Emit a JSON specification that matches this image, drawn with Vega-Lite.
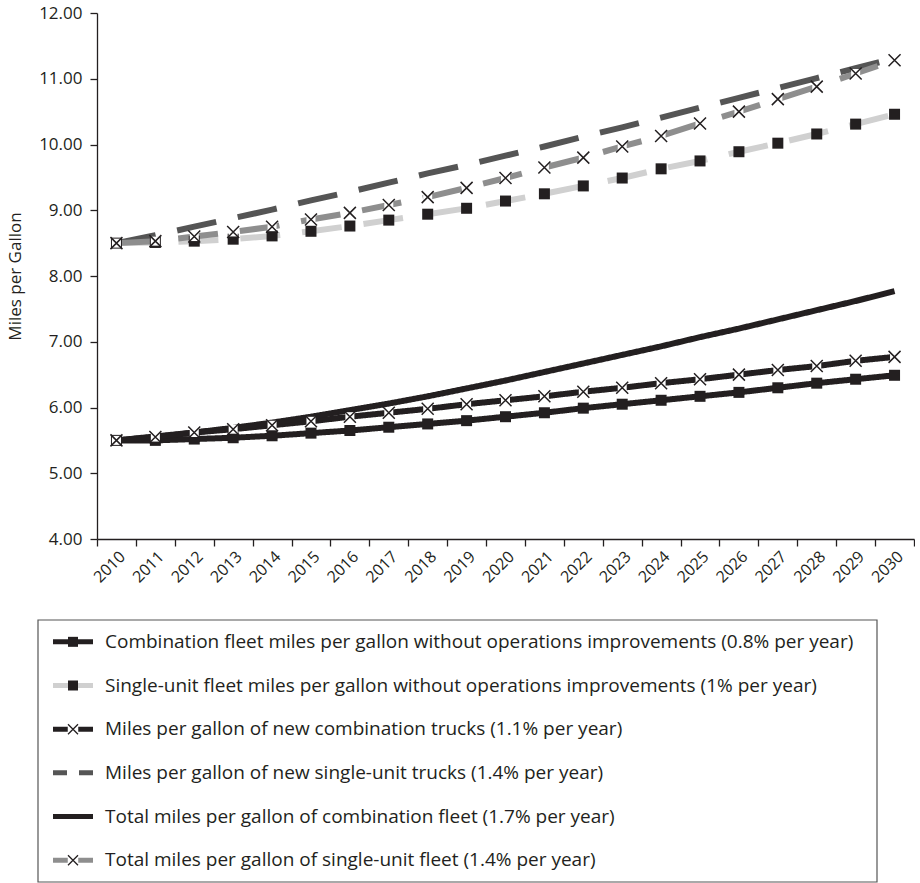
{
  "$schema": "https://vega.github.io/schema/vega-lite/v6.json",
  "padding": {"left": 6, "top": 4, "right": 0, "bottom": 0},
  "spacing": 33,
  "config": {
    "font": "Open Sans",
    "view": {"stroke": null},
    "axis": {"labelFont": "Open Sans", "titleFont": "Open Sans", "labelColor": "#231f20", "titleColor": "#231f20", "domainColor": "#231f20", "tickColor": "#231f20", "grid": false}
  },
  "datasets": {
    "mpg": [
      {"year": "2010", "s1": 5.50, "s2": 8.50, "s3": 5.50, "s4": 8.50, "s5": 5.50, "s6": 8.50},
      {"year": "2011", "s1": 5.50, "s2": 8.51, "s3": 5.55, "s4": 8.62, "s5": 5.56, "s6": 8.53},
      {"year": "2012", "s1": 5.52, "s2": 8.53, "s3": 5.62, "s4": 8.75, "s5": 5.62, "s6": 8.60},
      {"year": "2013", "s1": 5.54, "s2": 8.56, "s3": 5.67, "s4": 8.88, "s5": 5.69, "s6": 8.67},
      {"year": "2014", "s1": 5.57, "s2": 8.61, "s3": 5.73, "s4": 9.01, "s5": 5.77, "s6": 8.75},
      {"year": "2015", "s1": 5.61, "s2": 8.68, "s3": 5.79, "s4": 9.15, "s5": 5.86, "s6": 8.86},
      {"year": "2016", "s1": 5.65, "s2": 8.76, "s3": 5.86, "s4": 9.28, "s5": 5.96, "s6": 8.96},
      {"year": "2017", "s1": 5.70, "s2": 8.85, "s3": 5.92, "s4": 9.42, "s5": 6.06, "s6": 9.08},
      {"year": "2018", "s1": 5.75, "s2": 8.94, "s3": 5.98, "s4": 9.56, "s5": 6.17, "s6": 9.20},
      {"year": "2019", "s1": 5.80, "s2": 9.03, "s3": 6.05, "s4": 9.69, "s5": 6.29, "s6": 9.34},
      {"year": "2020", "s1": 5.86, "s2": 9.14, "s3": 6.11, "s4": 9.83, "s5": 6.41, "s6": 9.49},
      {"year": "2021", "s1": 5.92, "s2": 9.25, "s3": 6.17, "s4": 9.97, "s5": 6.54, "s6": 9.65},
      {"year": "2022", "s1": 5.99, "s2": 9.37, "s3": 6.24, "s4": 10.12, "s5": 6.67, "s6": 9.80},
      {"year": "2023", "s1": 6.05, "s2": 9.49, "s3": 6.30, "s4": 10.26, "s5": 6.80, "s6": 9.97},
      {"year": "2024", "s1": 6.11, "s2": 9.63, "s3": 6.37, "s4": 10.41, "s5": 6.93, "s6": 10.13},
      {"year": "2025", "s1": 6.17, "s2": 9.75, "s3": 6.43, "s4": 10.56, "s5": 7.07, "s6": 10.32},
      {"year": "2026", "s1": 6.23, "s2": 9.89, "s3": 6.50, "s4": 10.71, "s5": 7.20, "s6": 10.50},
      {"year": "2027", "s1": 6.30, "s2": 10.02, "s3": 6.57, "s4": 10.86, "s5": 7.34, "s6": 10.69},
      {"year": "2028", "s1": 6.37, "s2": 10.16, "s3": 6.63, "s4": 11.01, "s5": 7.48, "s6": 10.88},
      {"year": "2029", "s1": 6.43, "s2": 10.31, "s3": 6.71, "s4": 11.16, "s5": 7.62, "s6": 11.08},
      {"year": "2030", "s1": 6.49, "s2": 10.46, "s3": 6.77, "s4": 11.31, "s5": 7.77, "s6": 11.28}
    ],
    "legend": [
      {"key": "s1", "label": "Combination fleet miles per gallon without operations improvements (0.8% per year)"},
      {"key": "s2", "label": "Single-unit fleet miles per gallon without operations improvements (1% per year)"},
      {"key": "s3", "label": "Miles per gallon of new combination trucks (1.1% per year)"},
      {"key": "s4", "label": "Miles per gallon of new single-unit trucks (1.4% per year)"},
      {"key": "s5", "label": "Total miles per gallon of combination fleet (1.7% per year)"},
      {"key": "s6", "label": "Total miles per gallon of single-unit fleet (1.4% per year)"}
    ],
    "box": [{"part": "legend box"}]
  },
  "resolve": {"scale": {"x": "independent", "y": "independent", "color": "independent"}},
  "vconcat": [
    {
      "width": 817,
      "height": 526,
      "data": {"name": "mpg"},
      "transform": [{"fold": ["s1", "s2", "s3", "s4", "s5", "s6"], "as": ["key", "mpg"]}],
      "encoding": {
        "x": {
          "field": "year", "type": "ordinal",
          "scale": {"type": "band", "paddingInner": 0, "paddingOuter": 0},
          "axis": {"title": null, "labelAngle": -45, "tickBand": "extent", "tickSize": 7, "labelPadding": 2, "labelFontSize": 16, "domainWidth": 1.3, "tickWidth": 1.3}
        },
        "y": {
          "field": "mpg", "type": "quantitative",
          "scale": {"domain": [4, 12], "nice": false, "zero": false},
          "axis": {"title": "Miles per Gallon", "values": [4, 5, 6, 7, 8, 9, 10, 11, 12], "format": ".2f", "tickSize": 7, "labelPadding": 8, "labelFontSize": 17, "titleFontSize": 17, "titleFontWeight": "normal", "titlePadding": 14, "domainWidth": 1.3, "tickWidth": 1.3}
        }
      },
      "layer": [
        {
          "mark": {"type": "line", "strokeWidth": 6, "strokeCap": "butt", "strokeJoin": "round"},
          "encoding": {
            "color": {"field": "key", "type": "nominal", "legend": null,
              "scale": {"domain": ["s1", "s2", "s3", "s4", "s5", "s6"], "range": ["#231f20", "#d0d0d0", "#231f20", "#555555", "#231f20", "#8e8e8e"]}},
            "strokeDash": {"field": "key", "type": "nominal", "legend": null,
              "scale": {"domain": ["s1", "s2", "s3", "s4", "s5", "s6"], "range": [[1, 0], [40, 22], [1, 0], [40, 22], [1, 0], [40, 22]]}}
          }
        },
        {
          "transform": [{"filter": "datum.key == 's1' || datum.key == 's2'"}],
          "mark": {"type": "point", "shape": "square", "filled": true, "size": 121, "color": "#231f20", "opacity": 1}
        },
        {
          "transform": [{"filter": "datum.key == 's3' || datum.key == 's6'"}],
          "mark": {"type": "point", "shape": "square", "filled": true, "size": 81, "color": "#ffffff", "opacity": 1}
        },
        {
          "transform": [{"filter": "datum.key == 's3' || datum.key == 's6'"}],
          "mark": {"type": "point", "shape": "M-1,-1L1,1M-1,1L1,-1", "filled": false, "size": 144, "stroke": "#231f20", "strokeWidth": 1.5, "opacity": 1}
        }
      ]
    },
    {
      "width": 780,
      "height": 262,
      "layer": [
        {
          "data": {"name": "box"},
          "mark": {"type": "rect", "fill": null, "stroke": "#555555", "strokeWidth": 1.2, "clip": false},
          "encoding": {
            "x": {"datum": -59, "type": "quantitative", "scale": {"domain": [0, 780], "nice": false, "zero": false}, "axis": null},
            "x2": {"datum": 780}
          }
        },
        {
          "data": {"name": "legend"},
          "encoding": {
            "y": {
              "field": "key", "type": "nominal",
              "scale": {"type": "band", "domain": ["s1", "s2", "s3", "s4", "s5", "s6"], "paddingInner": 0, "paddingOuter": 0},
              "axis": null
            }
          },
          "layer": [
            {
              "transform": [{"filter": "datum.key != 's4'"}],
              "mark": {"type": "rule", "strokeWidth": 5},
              "encoding": {
                "x": {"datum": -44, "type": "quantitative"},
                "x2": {"datum": -4},
                "color": {"field": "key", "type": "nominal", "legend": null,
                  "scale": {"domain": ["s1", "s2", "s3", "s4", "s5", "s6"], "range": ["#231f20", "#d0d0d0", "#231f20", "#555555", "#231f20", "#8e8e8e"]}}
              }
            },
            {
              "transform": [{"filter": "datum.key == 's4'"}],
              "mark": {"type": "rule", "strokeWidth": 5, "strokeDash": [14, 12], "color": "#555555"},
              "encoding": {
                "x": {"datum": -44, "type": "quantitative"},
                "x2": {"datum": -4}
              }
            },
            {
              "transform": [{"filter": "datum.key == 's1' || datum.key == 's2'"}],
              "mark": {"type": "point", "shape": "square", "filled": true, "size": 100, "color": "#231f20", "opacity": 1},
              "encoding": {"x": {"datum": -24, "type": "quantitative"}}
            },
            {
              "transform": [{"filter": "datum.key == 's3' || datum.key == 's6'"}],
              "mark": {"type": "point", "shape": "square", "filled": true, "size": 110, "color": "#ffffff", "opacity": 1},
              "encoding": {"x": {"datum": -24, "type": "quantitative"}}
            },
            {
              "transform": [{"filter": "datum.key == 's3' || datum.key == 's6'"}],
              "mark": {"type": "point", "shape": "M-1,-1L1,1M-1,1L1,-1", "filled": false, "size": 100, "stroke": "#231f20", "strokeWidth": 1.3, "opacity": 1},
              "encoding": {"x": {"datum": -24, "type": "quantitative"}}
            },
            {
              "mark": {"type": "text", "align": "left", "baseline": "middle", "fontSize": 19, "font": "Open Sans", "color": "#231f20"},
              "encoding": {
                "x": {"datum": 8, "type": "quantitative"},
                "text": {"field": "label"}
              }
            }
          ]
        }
      ]
    }
  ]
}
